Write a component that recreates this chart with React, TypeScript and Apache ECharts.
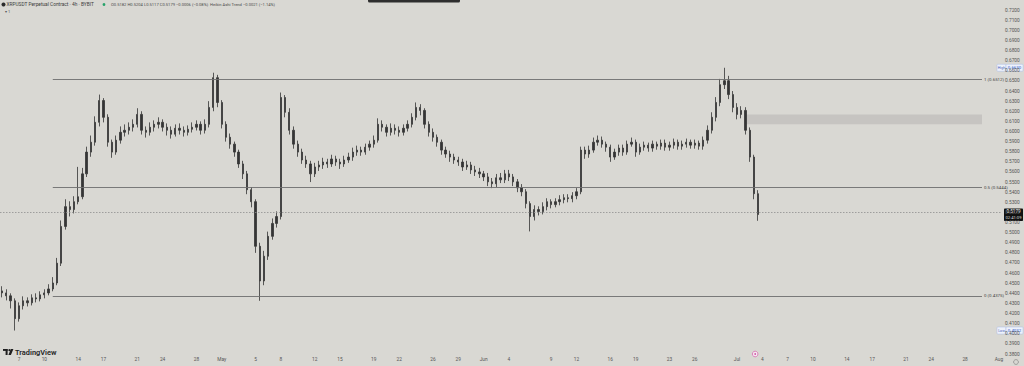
import React, { useEffect, useRef } from "react";
import * as echarts from "echarts";

// ---------- data ----------
const startDateUTC = [2024, 3, 5]; // 2024-04-05, 12h candles
const candleHours = 12;
const axisCandleCount = 237;
const firstOpen = 0.4424;

const closes = [
  0.4404, 0.4375, 0.4326, 0.4149, 0.4277, 0.4326, 0.4306, 0.4355, 0.4345, 0.4385,
  0.4404, 0.4443, 0.4502, 0.4698, 0.5061, 0.5257, 0.5228, 0.5306, 0.5355, 0.5581,
  0.5796, 0.5894, 0.6091, 0.6306, 0.614, 0.5894, 0.5796, 0.5914, 0.5992, 0.6012,
  0.6042, 0.6071, 0.6169, 0.6012, 0.5992, 0.6042, 0.6071, 0.6091, 0.6042, 0.6012,
  0.5973, 0.6032, 0.6012, 0.5992, 0.6022, 0.6042, 0.6071, 0.6012, 0.6071, 0.6238,
  0.6532, 0.6287, 0.6071, 0.5943, 0.5875, 0.5796, 0.5679, 0.5581, 0.5424, 0.5306,
  0.4865, 0.4522, 0.4767, 0.4963, 0.5091, 0.5159, 0.6336, 0.6189, 0.6012, 0.5875,
  0.5796, 0.5718, 0.5679, 0.5581, 0.5649, 0.5669, 0.5698, 0.5679, 0.5728, 0.5698,
  0.5679, 0.5718, 0.5747, 0.5796, 0.5816, 0.5796, 0.5845, 0.5875, 0.5914, 0.6071,
  0.6042, 0.5992, 0.6032, 0.6012, 0.5992, 0.6032, 0.6071, 0.614, 0.6238, 0.6208,
  0.6071, 0.5992, 0.5943, 0.5894, 0.5816, 0.5777, 0.5747, 0.5718, 0.5698, 0.5649,
  0.5669, 0.562, 0.56, 0.5581, 0.5551, 0.5502, 0.5483, 0.5542, 0.5522, 0.5581,
  0.5551, 0.5502, 0.5443, 0.5404, 0.5287, 0.5159, 0.5228, 0.5208, 0.5257, 0.5306,
  0.5277, 0.5306, 0.5326, 0.5345, 0.5336, 0.5365, 0.5404, 0.5816, 0.5777, 0.5816,
  0.5894, 0.5914, 0.5875, 0.5845, 0.5747, 0.5796, 0.5836, 0.5796, 0.5875, 0.5894,
  0.5796, 0.5845, 0.5865, 0.5836, 0.5875, 0.5855, 0.5885, 0.5845, 0.5865, 0.5894,
  0.5855, 0.5875, 0.5894, 0.5865, 0.5885, 0.5855, 0.5914, 0.6012, 0.614, 0.6287,
  0.6463, 0.6502, 0.6365, 0.6238, 0.6169, 0.6208, 0.6012, 0.5747, 0.5385, 0.5179,
];

const highs = [
  0.447, 0.444, 0.44, 0.435, 0.431, 0.437, 0.436, 0.439, 0.44, 0.442,
  0.444, 0.449, 0.456, 0.475, 0.512, 0.533, 0.531, 0.536, 0.565, 0.564,
  0.585, 0.596, 0.615, 0.6365, 0.633, 0.617, 0.592, 0.596, 0.605, 0.607,
  0.609, 0.612, 0.623, 0.62, 0.605, 0.609, 0.611, 0.614, 0.612, 0.608,
  0.605, 0.607, 0.608, 0.605, 0.606, 0.609, 0.611, 0.61, 0.612, 0.63,
  0.6581, 0.656, 0.631, 0.61, 0.598, 0.59, 0.582, 0.571, 0.561, 0.545,
  0.533, 0.49, 0.482, 0.501, 0.514, 0.521, 0.6385, 0.636, 0.623, 0.605,
  0.591, 0.583, 0.576, 0.571, 0.569, 0.571, 0.574, 0.573, 0.577, 0.576,
  0.573, 0.576, 0.579, 0.584, 0.586, 0.585, 0.588, 0.591, 0.596, 0.613,
  0.611, 0.607, 0.608, 0.607, 0.605, 0.607, 0.611, 0.618, 0.6287, 0.627,
  0.623, 0.61, 0.603, 0.597, 0.592, 0.585, 0.581, 0.578, 0.575, 0.573,
  0.571, 0.57, 0.566, 0.564, 0.561, 0.559, 0.554, 0.558, 0.559, 0.562,
  0.562, 0.558, 0.553, 0.548, 0.543, 0.531, 0.527, 0.526, 0.53, 0.534,
  0.533, 0.534, 0.537, 0.538, 0.538, 0.54, 0.544, 0.585, 0.585, 0.586,
  0.594, 0.596, 0.595, 0.59, 0.587, 0.583, 0.587, 0.587, 0.591, 0.594,
  0.592, 0.588, 0.59, 0.589, 0.591, 0.59, 0.592, 0.592, 0.59, 0.593,
  0.592, 0.591, 0.593, 0.592, 0.592, 0.591, 0.595, 0.606, 0.619, 0.634,
  0.652, 0.663, 0.655, 0.64, 0.628, 0.625, 0.624, 0.604, 0.577, 0.542,
];

const lows = [
  0.436, 0.433, 0.425, 0.4032, 0.412, 0.424, 0.427, 0.428, 0.431, 0.432,
  0.435, 0.438, 0.442, 0.448, 0.467, 0.503, 0.516, 0.519, 0.528, 0.533,
  0.555, 0.575, 0.586, 0.605, 0.609, 0.585, 0.574, 0.577, 0.588, 0.595,
  0.597, 0.6, 0.604, 0.597, 0.594, 0.596, 0.6, 0.603, 0.6, 0.596,
  0.593, 0.595, 0.597, 0.595, 0.596, 0.599, 0.601, 0.597, 0.598, 0.604,
  0.62, 0.624, 0.603, 0.59, 0.583, 0.575, 0.564, 0.553, 0.538, 0.525,
  0.48, 0.4326, 0.448, 0.473, 0.493, 0.505, 0.513, 0.614, 0.597, 0.583,
  0.575, 0.568, 0.564, 0.55, 0.555, 0.561, 0.563, 0.564, 0.565, 0.566,
  0.563, 0.565, 0.569, 0.571, 0.576, 0.576, 0.577, 0.581, 0.584, 0.589,
  0.6, 0.595, 0.596, 0.597, 0.595, 0.596, 0.6, 0.604, 0.611, 0.616,
  0.603, 0.595, 0.59, 0.585, 0.577, 0.574, 0.57, 0.568, 0.566, 0.561,
  0.562, 0.558, 0.556, 0.554, 0.551, 0.546, 0.544, 0.545, 0.549, 0.549,
  0.551, 0.546, 0.54, 0.536, 0.524, 0.5012, 0.512, 0.517, 0.518, 0.522,
  0.524, 0.525, 0.527, 0.529, 0.53, 0.53, 0.533, 0.538, 0.573, 0.574,
  0.579, 0.586, 0.584, 0.58, 0.57, 0.572, 0.576, 0.576, 0.577, 0.585,
  0.575, 0.577, 0.581, 0.58, 0.58, 0.582, 0.582, 0.581, 0.581, 0.583,
  0.582, 0.582, 0.584, 0.583, 0.583, 0.582, 0.582, 0.588, 0.598, 0.61,
  0.625, 0.642, 0.632, 0.619, 0.612, 0.613, 0.597, 0.57, 0.533, 0.5117,
];

const tickDays = [
  "2024-04-07", "2024-04-10", "2024-04-14", "2024-04-17", "2024-04-21", "2024-04-24", "2024-04-28",
  "2024-05-01", "2024-05-05", "2024-05-08", "2024-05-12", "2024-05-15", "2024-05-19", "2024-05-22",
  "2024-05-26", "2024-05-29", "2024-06-01", "2024-06-04", "2024-06-09", "2024-06-12", "2024-06-16",
  "2024-06-19", "2024-06-23", "2024-06-26", "2024-07-01", "2024-07-04", "2024-07-07", "2024-07-10",
  "2024-07-14", "2024-07-17", "2024-07-21", "2024-07-24", "2024-07-28", "2024-08-01",
];
const monthNames = ["Jan", "Feb", "Mar", "Apr", "May", "Jun", "Jul", "Aug", "Sep", "Oct", "Nov", "Dec"];

const fibRatios = ["1", "0.5", "0"];
const fibValues = [0.6512, 0.5444, 0.4375];
const fibFrom = "2024-04-11 00:00";
const fibTo = "2024-07-30 00:00";

const zoneFrom = "2024-07-02 00:00";
const zoneTo = "2024-07-30 00:00";
const zoneHigh = 0.6169;
const zoneLow = 0.6071;

const lastPrice = 0.5179;
const countdown = "02:41:09";
const highPrice = 0.663;
const lowPrice = 0.4032;

const yMin = 0.38;
const yMax = 0.73;
const yStep = 0.01;

const titleText = "XRPUSDT Perpetual Contract · 4h · BYBIT";
const ohlcText = "O0.5182 H0.5204 L0.5117 C0.5179 −0.0006 (−0.08%)  Heikin Ashi Trend −0.0021 (−1.14%)";

// ---------- helpers ----------
const pad = (n: number) => String(n).padStart(2, "0");
function buildCategories(): string[] {
  const t0 = Date.UTC(startDateUTC[0], startDateUTC[1], startDateUTC[2]);
  const out: string[] = [];
  for (let i = 0; i < axisCandleCount; i++) {
    const d = new Date(t0 + i * candleHours * 3600 * 1000);
    out.push(
      `${d.getUTCFullYear()}-${pad(d.getUTCMonth() + 1)}-${pad(d.getUTCDate())} ${pad(d.getUTCHours())}:00`
    );
  }
  return out;
}

const FONT = "Roboto, 'Liberation Sans', sans-serif";

export default function App() {
  const ref = useRef<HTMLDivElement>(null);

  useEffect(() => {
    if (!ref.current) return;
    const chart = echarts.init(ref.current, null, { renderer: "svg" });
    const categories = buildCategories();
    const tickSet = new Set(tickDays.map((d) => d + " 00:00"));
    const candles = closes.map((c, i) => [i === 0 ? firstOpen : closes[i - 1], c, lows[i], highs[i]]);

    const fibLines = fibValues.map((v, i) => [
      {
        coord: [fibFrom, v],
        label: {
          show: true,
          position: "end",
          formatter: `${fibRatios[i]} (${v.toFixed(4)})`,
          fontSize: 4.4,
          color: "#444",
          fontFamily: FONT,
          distance: 2,
        },
        lineStyle: { color: "#6e6e6e", width: 0.9, type: "solid" },
      },
      { coord: [fibTo, v] },
    ]);

    chart.setOption({
      animation: false,
      backgroundColor: "#d9d8d3",
      grid: { left: -3, right: 23, top: -3.3, bottom: 12, containLabel: false },
      xAxis: {
        type: "category",
        data: categories,
        boundaryGap: true,
        axisLine: { show: false },
        axisTick: { show: false },
        splitLine: { show: false },
        axisLabel: {
          interval: (_i: number, v: string) => tickSet.has(v),
          formatter: (v: string) => {
            const day = v.slice(8, 10);
            const m = Number(v.slice(5, 7));
            return day === "01" ? monthNames[m - 1] : String(Number(day));
          },
          fontSize: 4.8,
          color: "#555",
          margin: 3,
          fontFamily: FONT,
          hideOverlap: false,
        },
      },
      yAxis: {
        type: "value",
        position: "right",
        min: yMin,
        max: yMax,
        interval: yStep,
        scale: true,
        axisLine: { show: false },
        axisTick: { show: false },
        splitLine: { show: false },
        axisLabel: {
          formatter: (v: number) => v.toFixed(4),
          fontSize: 4.8,
          color: "#555",
          margin: 4,
          fontFamily: FONT,
          showMaxLabel: false,
        },
      },
      series: [
        {
          type: "candlestick",
          data: candles,
          barWidth: 1.8,
          itemStyle: {
            color: "#353535",
            color0: "#353535",
            borderColor: "#353535",
            borderColor0: "#353535",
            borderWidth: 0.8,
          },
          markLine: {
            silent: true,
            symbol: "none",
            animation: false,
            data: [
              ...fibLines,
              {
                yAxis: lastPrice,
                label: { show: false },
                lineStyle: { color: "#8f8f8f", width: 0.8, type: [1.5, 1.5] },
              },
            ],
          },
          markArea: {
            silent: true,
            itemStyle: { color: "rgba(175,174,170,0.45)" },
            data: [[{ coord: [zoneFrom, zoneHigh] }, { coord: [zoneTo, zoneLow] }]],
          },
        },
      ],
    });

    const py = (v: number) => chart.convertToPixel({ yAxisIndex: 0 }, v) as number;
    const px = (c: string) => chart.convertToPixel({ xAxisIndex: 0 }, c) as number;
    const yLast = py(lastPrice);
    const yHigh = py(highPrice);
    const yLow = py(lowPrice);
    const xEvent = px(categories[closes.length - 1]);

    const tag = (y: number, name: string, value: number) => ({
      type: "group",
      children: [
        {
          type: "rect",
          shape: { x: 997, y: y - 3.5, width: 9, height: 7, r: 0.8 },
          style: { fill: "#eef2fb", stroke: "#a9bbe6", lineWidth: 0.5 },
        },
        {
          type: "text",
          x: 1001.5,
          y,
          style: { text: name, fontSize: 3.6, fill: "#4463b8", align: "center", verticalAlign: "middle", fontFamily: FONT },
        },
        {
          type: "rect",
          shape: { x: 1006, y: y - 3.5, width: 17, height: 7, r: 0.8 },
          style: { fill: "#eef2fb", stroke: "#a9bbe6", lineWidth: 0.5 },
        },
        {
          type: "text",
          x: 1014.5,
          y,
          style: { text: value.toFixed(4), fontSize: 4.4, fill: "#2a56c6", align: "center", verticalAlign: "middle", fontFamily: FONT },
        },
      ],
    });

    chart.setOption({
      graphic: [
        // top toolbar handle
        { type: "rect", shape: { x: 368, y: -2, width: 92, height: 4.5, r: 1.5 }, style: { fill: "#2e2e2e" } },
        // header
        { type: "circle", shape: { cx: 3.5, cy: 4.5, r: 2 }, style: { fill: "#2b2b2b" } },
        {
          type: "text",
          x: 6.5,
          y: 4.6,
          style: { text: titleText, fontSize: 4.8, fill: "#3c3c3c", verticalAlign: "middle", fontFamily: FONT },
        },
        { type: "circle", shape: { cx: 104, cy: 4.5, r: 1.4 }, style: { fill: "#26a269" } },
        {
          type: "text",
          x: 111,
          y: 4.6,
          style: { text: ohlcText, fontSize: 4.1, fill: "#4a4a4a", verticalAlign: "middle", fontFamily: FONT },
        },
        {
          type: "text",
          x: 5,
          y: 11.5,
          style: { text: "▾ 1", fontSize: 4, fill: "#555", verticalAlign: "middle", fontFamily: FONT },
        },
        // price tags
        tag(yHigh, "High", highPrice),
        tag(yLow, "Low", lowPrice),
        {
          type: "group",
          children: [
            { type: "rect", shape: { x: 1004, y: yLast - 6, width: 19, height: 12.5, r: 0.8 }, style: { fill: "#111" } },
            {
              type: "text",
              x: 1013.5,
              y: yLast - 2.8,
              style: { text: lastPrice.toFixed(4), fontSize: 4.6, fill: "#fff", align: "center", verticalAlign: "middle", fontFamily: FONT },
            },
            {
              type: "text",
              x: 1013.5,
              y: yLast + 3,
              style: { text: countdown, fontSize: 4.2, fill: "#ddd", align: "center", verticalAlign: "middle", fontFamily: FONT },
            },
          ],
        },
        // event marker on time axis
        { type: "circle", shape: { cx: xEvent - 3, cy: 354, r: 2.8 }, style: { fill: "#f4e6f0", stroke: "#d45aa8", lineWidth: 0.7 } },
        { type: "circle", shape: { cx: xEvent - 3, cy: 354, r: 0.9 }, style: { fill: "#d45aa8" } },
        // settings gear
        { type: "circle", shape: { cx: 1016, cy: 362, r: 2.4 }, style: { fill: "none", stroke: "#777", lineWidth: 0.6 } },
        // TradingView logo
        { type: "rect", shape: { x: 3, y: 349, width: 4.6, height: 1.9 }, style: { fill: "#1f1f1f" } },
        { type: "rect", shape: { x: 5.6, y: 349, width: 2, height: 6 }, style: { fill: "#1f1f1f" } },
        { type: "circle", shape: { cx: 9.4, cy: 350.1, r: 1.1 }, style: { fill: "#1f1f1f" } },
        {
          type: "polygon",
          shape: { points: [[10.8, 349], [13.4, 349], [10.9, 355], [8.4, 355]] },
          style: { fill: "#1f1f1f" },
        },
        {
          type: "text",
          x: 15,
          y: 352.3,
          style: { text: "TradingView", fontSize: 7.4, fontWeight: 600, fill: "#1f1f1f", verticalAlign: "middle", fontFamily: FONT },
        },
      ],
    });

    return () => chart.dispose();
  }, []);

  return (
    <div
      ref={ref}
      style={{ position: "fixed", left: 0, top: 0, width: 1024, height: 366, background: "#d9d8d3" }}
    />
  );
}
